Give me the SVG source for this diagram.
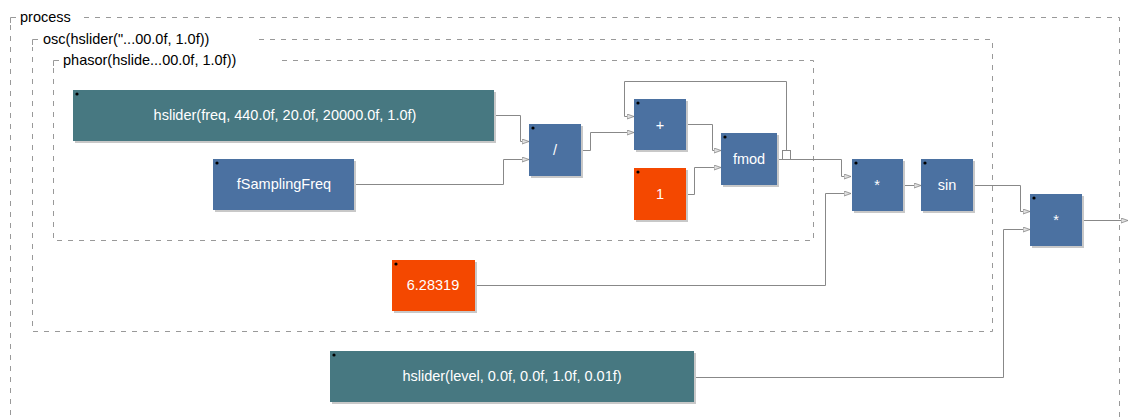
<svg xmlns="http://www.w3.org/2000/svg" width="1130" height="420" viewBox="0 0 1130 420">
<style>
.grp{fill:none;stroke:#999;stroke-width:1;stroke-dasharray:5 6}
.corner{fill:none;stroke:#999;stroke-width:1}
.glabel{font-family:"Liberation Sans",Arial,sans-serif;font-size:14.5px;fill:#000}
.shadow{fill:#c8c8c8}
.ui{fill:#477881}
.fn{fill:#4b71a1}
.num{fill:#f44800}
.t{font-family:"Liberation Sans",Arial,sans-serif;font-size:14.5px;fill:#ffffff;text-anchor:middle}
.dot{fill:#000}
.wa{fill:none;stroke:#888;stroke-width:1;marker-end:url(#arr)}
</style>
<defs>
<marker id="arr" markerWidth="8" markerHeight="6" refX="7" refY="3" orient="auto" markerUnits="userSpaceOnUse">
<path d="M0,0.5 L7,3 L0,5.5 Z" fill="#e0e0e0" stroke="#888" stroke-width="0.8"/>
</marker>
</defs>
<rect width="1130" height="420" fill="#ffffff"/>

<g id="group-process">
<path class="grp" d="M84,17.5 H1119.5 V420"/>
<path class="grp" d="M10.5,25 V420"/>
<path class="corner" d="M10.5,23 V17.5 H16"/>
<text class="glabel" x="20" y="22">process</text>
</g>
<g id="group-osc">
<path class="grp" d="M259,39.5 H992.5 V331.5 H32.5 V47"/>
<path class="corner" d="M32.5,45 V39.5 H38"/>
<text class="glabel" x="43" y="44">osc(hslider("...00.0f, 1.0f))</text>
</g>
<g id="group-phasor">
<path class="grp" d="M282,60.5 H813.5 V240.5 H53.5 V68"/>
<path class="corner" d="M53.5,66 V60.5 H59"/>
<text class="glabel" x="63" y="65">phasor(hslide...00.0f, 1.0f))</text>
</g>

<g id="connectors">
<polyline class="wa" points="494,115.5 520.5,115.5 520.5,141.5 529,141.5"/>
<polyline class="wa" points="354,184.5 503.5,184.5 503.5,159.5 529,159.5"/>
<polyline class="wa" points="581,150.5 590.5,150.5 590.5,132.5 634,132.5"/>
<polyline class="wa" points="786.5,150 786.5,81.5 624.5,81.5 624.5,116.5 634,116.5"/>
<polyline class="wa" points="686,124.5 712.5,124.5 712.5,150.5 721,150.5"/>
<polyline class="wa" points="686,194.5 694.5,194.5 694.5,167.5 721,167.5"/>
<rect x="782.5" y="150.5" width="8" height="9" fill="#fff" stroke="#888" stroke-width="1"/>
<polyline class="wa" points="777,159.5 841.5,159.5 841.5,176.5 851,176.5"/>
<polyline class="wa" points="475,285.5 825.5,285.5 825.5,193.5 851,193.5"/>
<polyline class="wa" points="903,185.5 921,185.5"/>
<polyline class="wa" points="973,185.5 1020.5,185.5 1020.5,211.5 1030,211.5"/>
<polyline class="wa" points="694,377.5 1003.5,377.5 1003.5,229.5 1030,229.5"/>
<polyline class="wa" points="1082,220.5 1128,220.5"/>
</g>

<g id="node-freq">
<rect class="shadow" x="75" y="92" width="421" height="51"/>
<rect class="ui" x="73" y="90" width="421" height="51"/>
<circle class="dot" cx="77" cy="94" r="1.6"/>
<text class="t" x="285" y="120">hslider(freq, 440.0f, 20.0f, 20000.0f, 1.0f)</text>
</g>
<g id="node-fs">
<rect class="shadow" x="215" y="161" width="141" height="51"/>
<rect class="fn" x="213" y="159" width="141" height="51"/>
<circle class="dot" cx="217" cy="163" r="1.6"/>
<text class="t" x="284" y="189">fSamplingFreq</text>
</g>
<g id="node-div">
<rect class="shadow" x="531" y="126" width="52" height="52"/>
<rect class="fn" x="529" y="124" width="52" height="52"/>
<circle class="dot" cx="533" cy="128" r="1.6"/>
<text class="t" x="555" y="155">/</text>
</g>
<g id="node-plus">
<rect class="shadow" x="636" y="101" width="52" height="51"/>
<rect class="fn" x="634" y="99" width="52" height="51"/>
<circle class="dot" cx="638" cy="103" r="1.6"/>
<text class="t" x="660" y="130">+</text>
</g>
<g id="node-one">
<rect class="shadow" x="636" y="170" width="52" height="52"/>
<rect class="num" x="634" y="168" width="52" height="52"/>
<circle class="dot" cx="638" cy="172" r="1.6"/>
<text class="t" x="660" y="199">1</text>
</g>
<g id="node-fmod">
<rect class="shadow" x="723" y="135" width="56" height="52"/>
<rect class="fn" x="721" y="133" width="56" height="52"/>
<circle class="dot" cx="725" cy="137" r="1.6"/>
<text class="t" x="749" y="164">fmod</text>
</g>
<g id="node-mul1">
<rect class="shadow" x="854" y="161" width="51" height="52"/>
<rect class="fn" x="852" y="159" width="51" height="52"/>
<circle class="dot" cx="856" cy="163" r="1.6"/>
<text class="t" x="877" y="190">*</text>
</g>
<g id="node-sin">
<rect class="shadow" x="923" y="161" width="52" height="52"/>
<rect class="fn" x="921" y="159" width="52" height="52"/>
<circle class="dot" cx="925" cy="163" r="1.6"/>
<text class="t" x="947" y="190">sin</text>
</g>
<g id="node-mul2">
<rect class="shadow" x="1032" y="196" width="52" height="52"/>
<rect class="fn" x="1030" y="194" width="52" height="52"/>
<circle class="dot" cx="1034" cy="198" r="1.6"/>
<text class="t" x="1056" y="225">*</text>
</g>
<g id="node-twopi">
<rect class="shadow" x="394" y="262" width="83" height="51"/>
<rect class="num" x="392" y="260" width="83" height="51"/>
<circle class="dot" cx="396" cy="264" r="1.6"/>
<text class="t" x="433" y="290">6.28319</text>
</g>
<g id="node-level">
<rect class="shadow" x="332" y="353" width="364" height="51"/>
<rect class="ui" x="330" y="351" width="364" height="51"/>
<circle class="dot" cx="334" cy="355" r="1.6"/>
<text class="t" x="512" y="381">hslider(level, 0.0f, 0.0f, 1.0f, 0.01f)</text>
</g>
</svg>
